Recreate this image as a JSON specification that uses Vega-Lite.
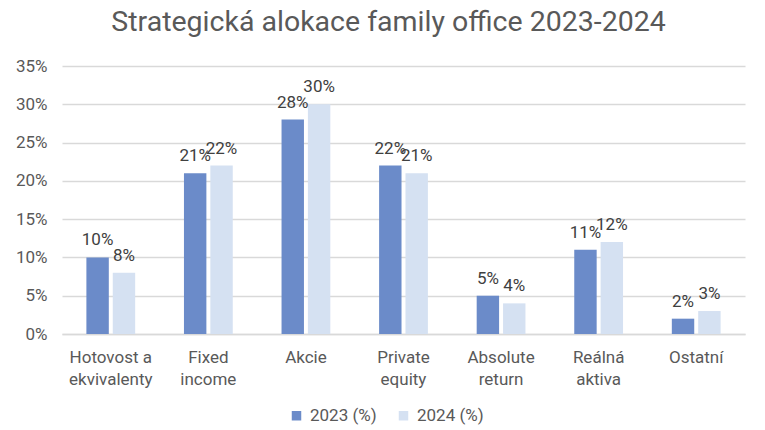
{
  "$schema": "https://vega.github.io/schema/vega-lite/v6.json",
  "description": "Strategická alokace family office 2023-2024",
  "autosize": "none",
  "width": 683,
  "height": 268,
  "padding": {"left": 62, "top": 66, "right": 20, "bottom": 96},
  "background": "white",
  "title": {
    "text": "Strategická alokace family office 2023-2024",
    "font": "Roboto",
    "fontSize": 28.5,
    "fontWeight": "normal",
    "color": "#595959",
    "anchor": "middle",
    "dx": -15,
    "offset": 21
  },
  "data": {
    "values": [
      {"category": "Hotovost a ekvivalenty", "series": "2023 (%)", "value": 0.10},
      {"category": "Hotovost a ekvivalenty", "series": "2024 (%)", "value": 0.08},
      {"category": "Fixed income", "series": "2023 (%)", "value": 0.21},
      {"category": "Fixed income", "series": "2024 (%)", "value": 0.22},
      {"category": "Akcie", "series": "2023 (%)", "value": 0.28},
      {"category": "Akcie", "series": "2024 (%)", "value": 0.30},
      {"category": "Private equity", "series": "2023 (%)", "value": 0.22},
      {"category": "Private equity", "series": "2024 (%)", "value": 0.21},
      {"category": "Absolute return", "series": "2023 (%)", "value": 0.05},
      {"category": "Absolute return", "series": "2024 (%)", "value": 0.04},
      {"category": "Reálná aktiva", "series": "2023 (%)", "value": 0.11},
      {"category": "Reálná aktiva", "series": "2024 (%)", "value": 0.12},
      {"category": "Ostatní", "series": "2023 (%)", "value": 0.02},
      {"category": "Ostatní", "series": "2024 (%)", "value": 0.03}
    ]
  },
  "encoding": {
    "x": {
      "field": "category",
      "type": "nominal",
      "sort": null,
      "title": null,
      "scale": {"paddingInner": 0.5, "paddingOuter": 0.25},
      "axis": {
        "labelAngle": 0,
        "ticks": false,
        "domainColor": "#d9d9d9",
        "domainWidth": 1.5,
        "labelPadding": 15,
        "labelFont": "Roboto",
        "labelFontSize": 17,
        "labelColor": "#595959",
        "labelLineHeight": 22,
        "labelExpr": "lastindexof(datum.label, ' ') > 0 ? [substring(datum.label, 0, lastindexof(datum.label, ' ')), substring(datum.label, lastindexof(datum.label, ' ') + 1)] : datum.label"
      }
    },
    "xOffset": {
      "field": "series",
      "type": "nominal",
      "scale": {"paddingInner": 0.15}
    },
    "y": {
      "field": "value",
      "type": "quantitative",
      "title": null,
      "scale": {"domain": [0, 0.35]},
      "axis": {
        "values": [0, 0.05, 0.10, 0.15, 0.20, 0.25, 0.30, 0.35],
        "format": ".0%",
        "domain": false,
        "ticks": false,
        "gridColor": "#d9d9d9",
        "gridWidth": 1.5,
        "labelPadding": 15,
        "labelFont": "Roboto",
        "labelFontSize": 17,
        "labelColor": "#595959"
      }
    }
  },
  "layer": [
    {
      "mark": {"type": "bar"},
      "encoding": {
        "color": {
          "field": "series",
          "type": "nominal",
          "title": null,
          "scale": {"domain": ["2023 (%)", "2024 (%)"], "range": ["#6b8bc9", "#d5e1f2"]},
          "legend": {
            "orient": "none",
            "direction": "horizontal",
            "legendX": 226,
            "legendY": 341,
            "padding": 0,
            "symbolType": "square",
            "symbolSize": 90,
            "symbolStrokeWidth": 0,
            "labelFont": "Roboto",
            "labelFontSize": 17,
            "labelColor": "#595959",
            "columnPadding": 18,
            "labelOffset": 5
          }
        }
      }
    },
    {
      "mark": {
        "type": "text",
        "dy": -12,
        "baseline": "alphabetic",
        "font": "Roboto",
        "fontSize": 17,
        "color": "#404040"
      },
      "encoding": {
        "text": {"field": "value", "type": "quantitative", "format": ".0%"}
      }
    }
  ],
  "config": {
    "view": {"stroke": null}
  }
}
